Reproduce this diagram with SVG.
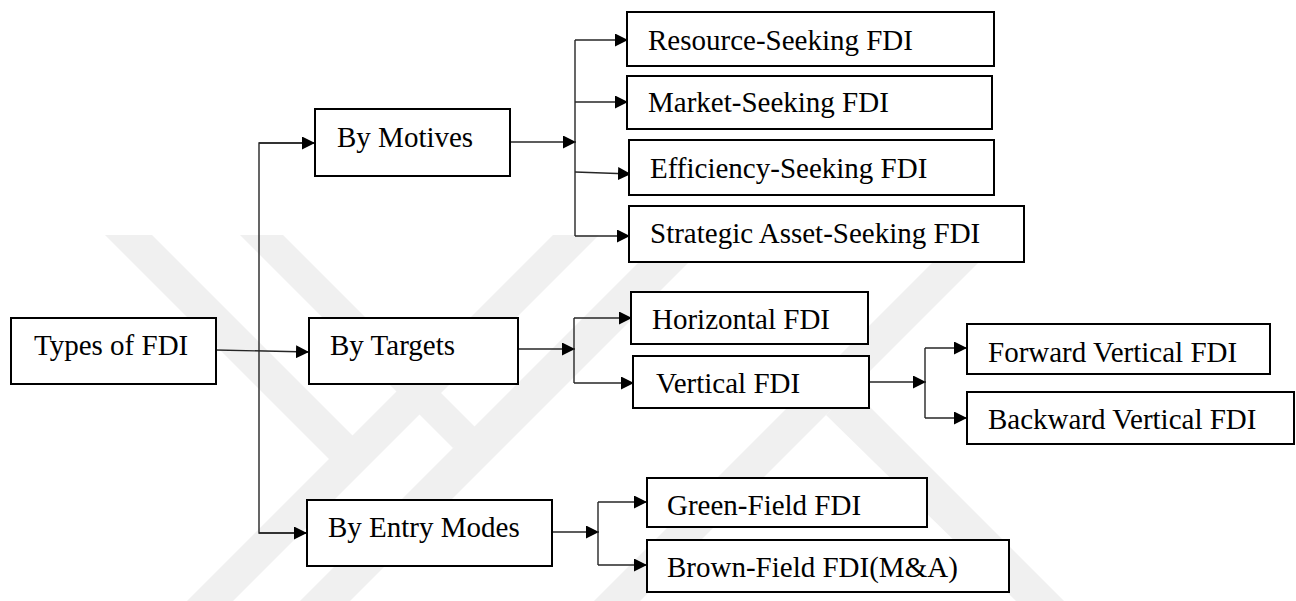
<svg xmlns="http://www.w3.org/2000/svg" width="1296" height="601" viewBox="0 0 1296 601">
  <style>
    .box { fill: #ffffff; stroke: #000000; stroke-width: 2; }
    .lbl { font-family: "Liberation Serif", "Times New Roman", serif; font-size: 29px; fill: #000000; }
    .wire { fill: none; stroke: #262626; stroke-width: 1.4; }
    .arrow { fill: none; stroke: #262626; stroke-width: 1.4; marker-end: url(#head); }
    .mark { fill: #f0f0f0; }
  </style>
  <defs>
    <marker id="head" markerUnits="userSpaceOnUse" markerWidth="13" markerHeight="13" viewBox="0 0 13 13" refX="13" refY="6.5" orient="auto">
      <path d="M0,0 L13,6.5 L0,13 z" fill="#000000"/>
    </marker>
  </defs>

  <rect width="1296" height="601" fill="#ffffff"/>

  <!-- faint background emblem -->
  <g id="emblem">
    <polygon class="mark" points="105,235 152,235 356,439 330,460"/>
    <polygon class="mark" points="187,601 233,601 599,235 553,235"/>
    <polygon class="mark" points="240,235 283,235 478,430 453,448"/>
    <polygon class="mark" points="300,601 350,601 716,235 666,235"/>
    <polygon class="mark" points="594,601 640,601 1006,235 960,235"/>
    <polygon class="mark" points="826,415 852,389 1064,601 1016,601"/>
  </g>

  <!-- connectors -->
  <g id="connectors">
    <!-- root -->
    <line class="arrow" x1="216" y1="350" x2="309" y2="352"/>
    <polyline class="wire" points="315,143 259,143 259,533 307,533"/>
    <line class="arrow" x1="259" y1="143" x2="315" y2="143"/>
    <line class="arrow" x1="259" y1="533" x2="307" y2="533"/>

    <!-- motives -->
    <line class="arrow" x1="510" y1="142" x2="576" y2="142"/>
    <line class="wire" x1="575" y1="40" x2="575" y2="236"/>
    <line class="arrow" x1="575" y1="40" x2="628" y2="40"/>
    <line class="arrow" x1="575" y1="102" x2="628" y2="102"/>
    <line class="arrow" x1="575" y1="172" x2="631" y2="174"/>
    <line class="arrow" x1="575" y1="236" x2="630" y2="236"/>

    <!-- targets -->
    <line class="arrow" x1="518" y1="349" x2="575" y2="349"/>
    <line class="wire" x1="574" y1="318" x2="574" y2="383"/>
    <line class="arrow" x1="574" y1="318" x2="632" y2="318"/>
    <line class="arrow" x1="574" y1="383" x2="634" y2="383"/>

    <!-- vertical split -->
    <line class="arrow" x1="870" y1="382" x2="926" y2="382"/>
    <line class="wire" x1="925" y1="348" x2="925" y2="418"/>
    <line class="arrow" x1="925" y1="348" x2="967" y2="348"/>
    <line class="arrow" x1="925" y1="418" x2="967" y2="418"/>

    <!-- entry modes -->
    <line class="arrow" x1="552" y1="532" x2="599" y2="532"/>
    <line class="wire" x1="598" y1="502" x2="598" y2="565"/>
    <line class="arrow" x1="598" y1="502" x2="647" y2="502"/>
    <line class="arrow" x1="598" y1="565" x2="647" y2="565"/>
  </g>

  <!-- nodes -->
  <g id="types-of-fdi">
    <rect class="box" x="11" y="318" width="205" height="66"/>
    <text class="lbl" x="34" y="355">Types of FDI</text>
  </g>
  <g id="by-motives">
    <rect class="box" x="315" y="109" width="195" height="67"/>
    <text class="lbl" x="337" y="147">By Motives</text>
  </g>
  <g id="by-targets">
    <rect class="box" x="309" y="318" width="209" height="66"/>
    <text class="lbl" x="330" y="355">By Targets</text>
  </g>
  <g id="by-entry-modes">
    <rect class="box" x="307" y="500" width="245" height="66"/>
    <text class="lbl" x="328" y="537">By Entry Modes</text>
  </g>

  <g id="resource-seeking">
    <rect class="box" x="627" y="12" width="367" height="54"/>
    <text class="lbl" x="648" y="50">Resource-Seeking FDI</text>
  </g>
  <g id="market-seeking">
    <rect class="box" x="627" y="76" width="365" height="53"/>
    <text class="lbl" x="648" y="112">Market-Seeking FDI</text>
  </g>
  <g id="efficiency-seeking">
    <rect class="box" x="629" y="140" width="365" height="55"/>
    <text class="lbl" x="650" y="178">Efficiency-Seeking FDI</text>
  </g>
  <g id="strategic-asset-seeking">
    <rect class="box" x="629" y="206" width="395" height="56"/>
    <text class="lbl" x="650" y="243">Strategic Asset-Seeking FDI</text>
  </g>

  <g id="horizontal">
    <rect class="box" x="631" y="292" width="237" height="52"/>
    <text class="lbl" x="652" y="329">Horizontal FDI</text>
  </g>
  <g id="vertical">
    <rect class="box" x="633" y="356" width="236" height="52"/>
    <text class="lbl" x="656" y="393">Vertical FDI</text>
  </g>
  <g id="forward-vertical">
    <rect class="box" x="967" y="324" width="303" height="50"/>
    <text class="lbl" x="988" y="362">Forward Vertical FDI</text>
  </g>
  <g id="backward-vertical">
    <rect class="box" x="967" y="392" width="327" height="52"/>
    <text class="lbl" x="988" y="429">Backward Vertical FDI</text>
  </g>

  <g id="green-field">
    <rect class="box" x="647" y="478" width="280" height="49"/>
    <text class="lbl" x="667" y="515">Green-Field FDI</text>
  </g>
  <g id="brown-field">
    <rect class="box" x="647" y="540" width="362" height="52"/>
    <text class="lbl" x="667" y="577">Brown-Field FDI(M&amp;A)</text>
  </g>
</svg>
